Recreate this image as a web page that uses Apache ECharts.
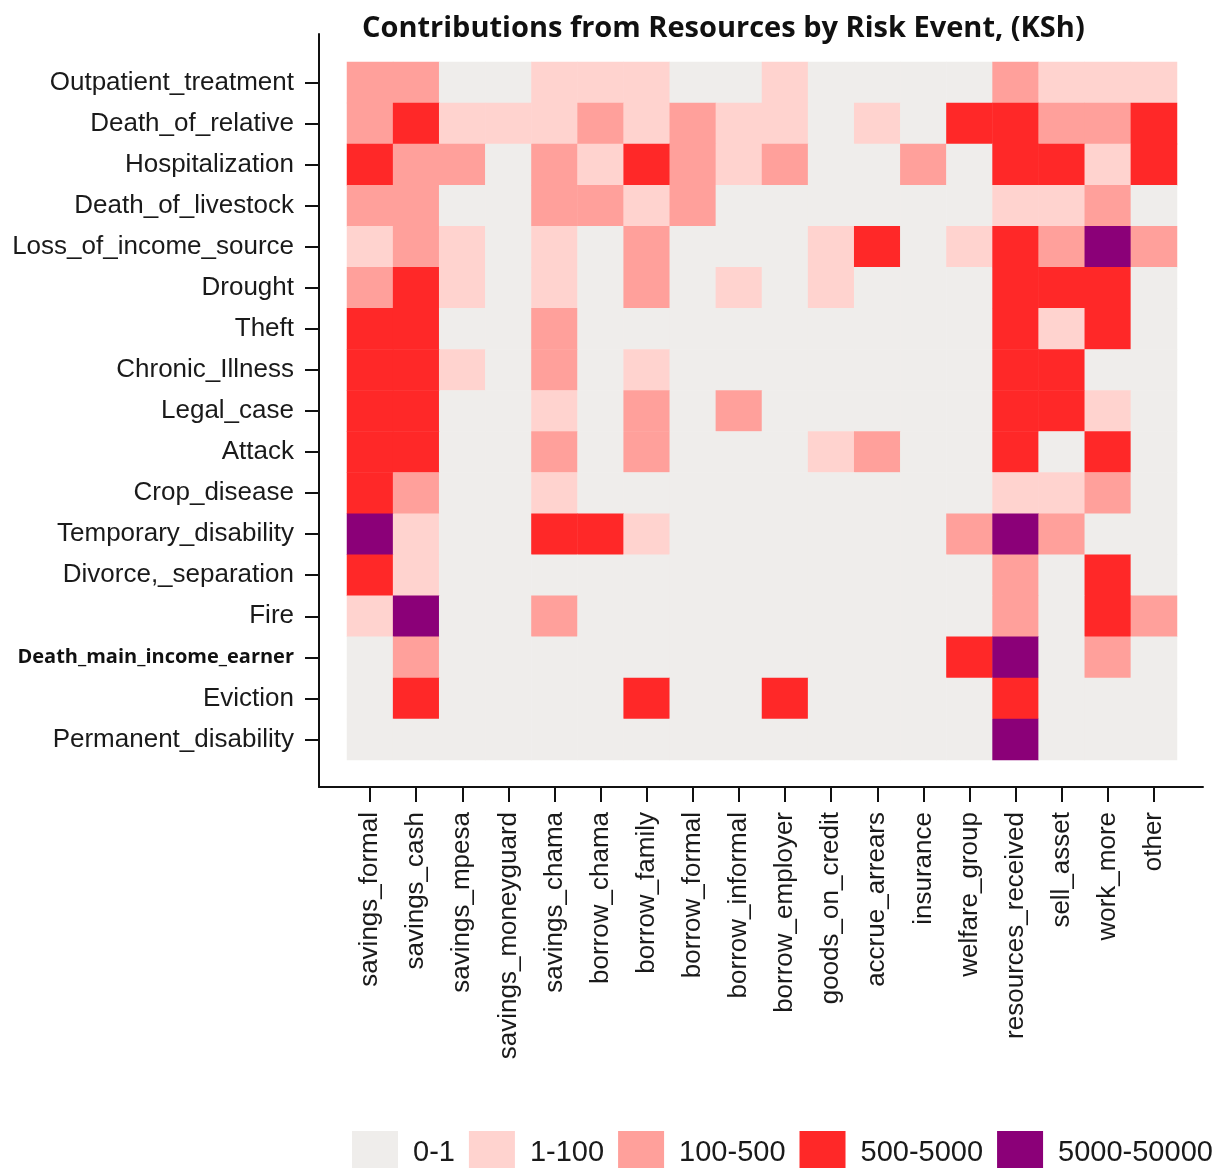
<!DOCTYPE html>
<html>
<head>
<meta charset="utf-8">
<title>Contributions from Resources by Risk Event</title>
<script src="https://cdn.jsdelivr.net/npm/echarts@6/dist/echarts.min.js"></script>
<style>
  html, body { margin: 0; padding: 0; background: #fff; }
  #chart { width: 1223px; height: 1168px; }
</style>
</head>
<body>
<div id="chart"></div>
<script>
// columns (resources)
var resources = ['savings_formal', 'savings_cash', 'savings_mpesa', 'savings_moneyguard',
  'savings_chama', 'borrow_chama', 'borrow_family', 'borrow_formal', 'borrow_informal',
  'borrow_employer', 'goods_on_credit', 'accrue_arrears', 'insurance', 'welfare_group',
  'resources_received', 'sell_asset', 'work_more', 'other'];

// rows (risk events), top to bottom
var events = ['Outpatient_treatment', 'Death_of_relative', 'Hospitalization', 'Death_of_livestock',
  'Loss_of_income_source', 'Drought', 'Theft', 'Chronic_Illness', 'Legal_case', 'Attack',
  'Crop_disease', 'Temporary_disability', 'Divorce,_separation', 'Fire',
  'Death_main_income_earner', 'Eviction', 'Permanent_disability'];

// KSh bins
var bins = ['0-1', '1-100', '100-500', '500-5000', '5000-50000'];

// bin index per cell, one line per event, one entry per resource
var levels = [
  [2,2,0,0,1,1,1,0,0,1,0,0,0,0,2,1,1,1], // Outpatient_treatment
  [2,3,1,1,1,2,1,2,1,1,0,1,0,3,3,2,2,3], // Death_of_relative
  [3,2,2,0,2,1,3,2,1,2,0,0,2,0,3,3,1,3], // Hospitalization
  [2,2,0,0,2,2,1,2,0,0,0,0,0,0,1,1,2,0], // Death_of_livestock
  [1,2,1,0,1,0,2,0,0,0,1,3,0,1,3,2,4,2], // Loss_of_income_source
  [2,3,1,0,1,0,2,0,1,0,1,0,0,0,3,3,3,0], // Drought
  [3,3,0,0,2,0,0,0,0,0,0,0,0,0,3,1,3,0], // Theft
  [3,3,1,0,2,0,1,0,0,0,0,0,0,0,3,3,0,0], // Chronic_Illness
  [3,3,0,0,1,0,2,0,2,0,0,0,0,0,3,3,1,0], // Legal_case
  [3,3,0,0,2,0,2,0,0,0,1,2,0,0,3,0,3,0], // Attack
  [3,2,0,0,1,0,0,0,0,0,0,0,0,0,1,1,2,0], // Crop_disease
  [4,1,0,0,3,3,1,0,0,0,0,0,0,2,4,2,0,0], // Temporary_disability
  [3,1,0,0,0,0,0,0,0,0,0,0,0,0,2,0,3,0], // Divorce,_separation
  [1,4,0,0,2,0,0,0,0,0,0,0,0,0,2,0,3,2], // Fire
  [0,2,0,0,0,0,0,0,0,0,0,0,0,3,4,0,2,0], // Death_main_income_earner
  [0,3,0,0,0,0,3,0,0,3,0,0,0,0,3,0,0,0], // Eviction
  [0,0,0,0,0,0,0,0,0,0,0,0,0,0,4,0,0,0]  // Permanent_disability
];

var binColors = ['#efedeb', '#ffd3cf', '#ffa09b', '#ff2828', '#8b0078'];

var cells = [];
for (var r = 0; r < events.length; r++) {
  for (var c = 0; c < resources.length; c++) {
    cells.push([c, r, levels[r][c]]);
  }
}

var pieces = [];
for (var i = 0; i < bins.length; i++) {
  pieces.push({ value: i, label: bins[i], color: binColors[i] });
}

var labelFont = 'Liberation Sans, Arial, sans-serif';

var ele = echarts.init(document.getElementById('chart'));
var option = {
  animation: false,
  backgroundColor: '#fff',
  title: {
    text: 'Contributions from Resources by Risk Event, (KSh)',
    left: 357,
    top: 9,
    textStyle: {
      fontFamily: 'Open Sans',
      fontWeight: 'bold',
      fontSize: 29,
      color: '#111'
    }
  },
  grid: [
    { left: 347, top: 62, right: 46, bottom: 408, outerBoundsMode: 'none' },
    // outer frame carrying the long axis lines
    { left: 319, top: 34, right: 20, bottom: 381, outerBoundsMode: 'none' }
  ],
  xAxis: [
    {
      type: 'category',
      data: resources,
      gridIndex: 0,
      offset: 27,
      axisLine: { show: false },
      axisTick: { show: true, alignWithLabel: true, length: 15, lineStyle: { color: '#111', width: 2 } },
      axisLabel: {
        rotate: 90,
        interval: 0,
        margin: 25,
        fontFamily: labelFont,
        fontSize: 26,
        color: '#1a1a1a'
      },
      splitLine: { show: false }
    },
    {
      type: 'value',
      gridIndex: 1,
      min: 0,
      max: 1,
      axisLine: { show: true, onZero: false, lineStyle: { color: '#111', width: 2 } },
      axisTick: { show: false },
      axisLabel: { show: false },
      splitLine: { show: false }
    }
  ],
  yAxis: [
    {
      type: 'category',
      data: events,
      gridIndex: 0,
      inverse: true,
      offset: 28,
      axisLine: { show: false },
      axisTick: { show: true, alignWithLabel: true, length: 14, lineStyle: { color: '#111', width: 2 } },
      axisLabel: {
        interval: 0,
        margin: 25,
        fontFamily: labelFont,
        fontSize: 26,
        color: '#1a1a1a',
        formatter: function (v) {
          return v === 'Death_main_income_earner' ? '{b|' + v + '}' : v;
        },
        rich: {
          b: { fontFamily: 'Open Sans', fontWeight: 'bold', fontSize: 20, color: '#111' }
        }
      },
      splitLine: { show: false }
    },
    {
      type: 'value',
      gridIndex: 1,
      min: 0,
      max: 1,
      axisLine: { show: true, onZero: false, lineStyle: { color: '#111', width: 2 } },
      axisTick: { show: false },
      axisLabel: { show: false },
      splitLine: { show: false }
    }
  ],
  visualMap: {
    type: 'piecewise',
    seriesIndex: 0,
    dimension: 2,
    pieces: pieces,
    orient: 'horizontal',
    left: 337,
    top: 1116,
    itemWidth: 46,
    itemHeight: 44,
    itemGap: 14,
    textGap: 15,
    itemSymbol: 'rect',
    textStyle: { fontFamily: labelFont, fontSize: 29, color: '#1a1a1a' }
  },
  series: [
    {
      type: 'heatmap',
      xAxisIndex: 0,
      yAxisIndex: 0,
      data: cells,
      itemStyle: { borderWidth: 0 },
      emphasis: { disabled: true }
    }
  ]
};
ele.setOption(option);
</script>
</body>
</html>
